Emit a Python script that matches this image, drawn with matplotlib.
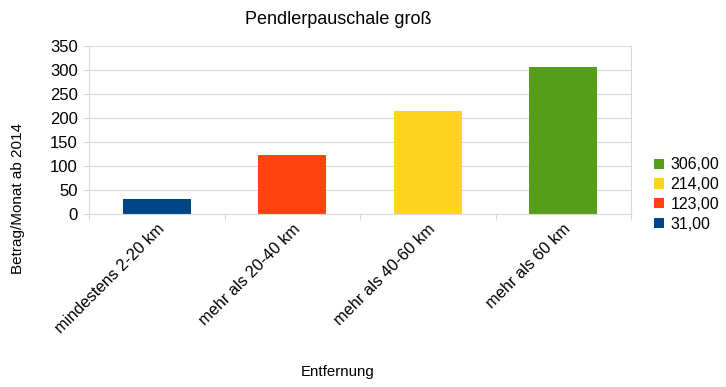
import matplotlib
matplotlib.use("Agg")
import matplotlib.pyplot as plt
from matplotlib.patches import Patch

plt.rcParams["font.family"] = ["Liberation Sans", "DejaVu Sans"]

categories = ["mindestens 2-20 km", "mehr als 20-40 km",
              "mehr als 40-60 km", "mehr als 60 km"]
values = [31.0, 123.0, 214.0, 306.0]
labels = ["31,00", "123,00", "214,00", "306,00"]
colors = ["#004586", "#ff420e", "#ffd320", "#579d1c"]
GRID = "#d9d9d9"

fig = plt.figure(figsize=(7.26, 3.87), dpi=100)
ax = fig.add_axes([89 / 726, 1 - 214 / 387, (631 - 89) / 726, (214 - 46) / 387])

x = list(range(len(categories)))
ax.bar(x, values, width=0.5, color=colors, zorder=2)
ax.set_xlim(-0.5, len(categories) - 0.5)
ax.set_ylim(0, 350)
ax.set_yticks(range(0, 351, 50))
ax.yaxis.grid(True, color=GRID, lw=0.8, zorder=0)
ax.set_axisbelow(True)

# category boundary ticks
ax.set_xticks([i - 0.5 for i in range(len(categories) + 1)], minor=False)
ax.set_xticklabels([])
ax.set_xticks(x, minor=True)
ax.set_xticklabels(categories, minor=True, rotation=45, ha="right",
                   rotation_mode="anchor", fontsize=11.8)
ax.tick_params(axis="x", which="major", length=4, color=GRID)
ax.tick_params(axis="x", which="minor", length=0, pad=5)
ax.tick_params(axis="y", length=4, color=GRID, labelsize=12, pad=4)
for sp in ax.spines.values():
    sp.set_color(GRID)
ax.spines["top"].set_visible(False)

fig.text(338 / 726, 1 - 372 / 387, "Entfernung",
         ha="center", va="center", fontsize=10.8)
fig.text(18 / 726, 1 - 198 / 387, "Betrag/Monat ab 2014", rotation=90,
         ha="center", va="center", fontsize=11)
fig.text(338 / 726, 1 - 20 / 387, "Pendlerpauschale groß", ha="center",
         va="center", fontsize=13)

handles = [Patch(facecolor=c, edgecolor="none") for c in colors][::-1]
fig.legend(handles, labels[::-1], loc="upper left",
           bbox_to_anchor=(640 / 726, 1 - 143 / 387), frameon=False,
           fontsize=11.5, handlelength=0.6, handleheight=0.6,
           handletextpad=0.4, labelspacing=0.3)

fig.savefig("out.png", dpi=100)
